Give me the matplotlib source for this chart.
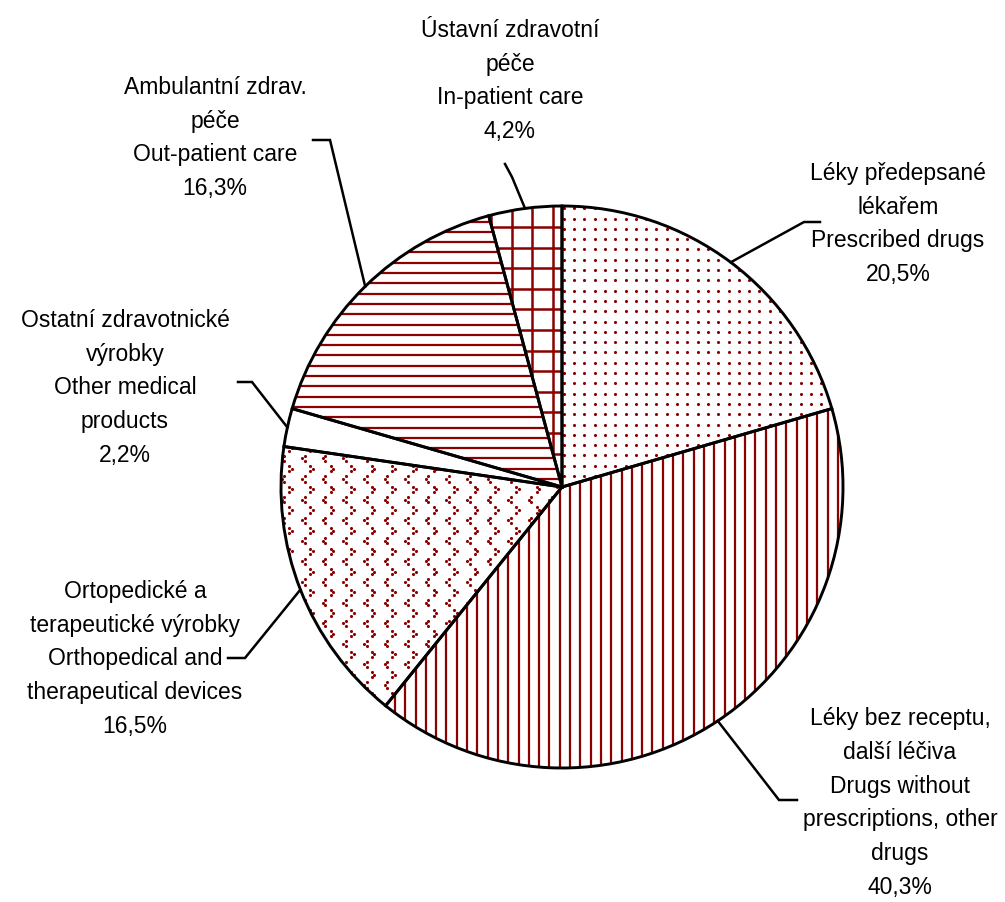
import numpy as np
import matplotlib
matplotlib.use('Agg')
import matplotlib.pyplot as plt

plt.rcParams['font.family'] = ['Liberation Sans Narrow', 'Liberation Sans', 'DejaVu Sans']

labels = ['Léky předepsané\nlékařem\nPrescribed drugs',
          'Léky bez receptu,\ndalší léčiva\nDrugs without\nprescriptions, other\ndrugs',
          'Ortopedické a\nterapeutické výrobky\nOrthopedical and\ntherapeutical devices',
          'Ostatní zdravotnické\nvýrobky\nOther medical\nproducts',
          'Ambulantní zdrav.\npéče\nOut-patient care',
          'Ústavní zdravotní\npéče\nIn-patient care']
shares = [20.5, 40.3, 16.5, 2.2, 16.3, 4.2]
patterns = ['dots', 'vlines', 'chevrons', 'none', 'hlines', 'grid']

W, H = 1005, 903
cx, cy, r = 562, H - 488, 281
red = '#8b0000'

fig = plt.figure(figsize=(W / 100, H / 100), dpi=100)
ax = fig.add_axes([0, 0, 1, 1])

wedges, _ = ax.pie(shares, startangle=90, counterclock=False, center=(cx, cy), radius=r,
                   wedgeprops=dict(facecolor='white', edgecolor='none', zorder=1))

# pattern fills, clipped to each wedge
step = 10.3
xs = np.arange(cx - r - 20, cx + r + 20, step)
ys = np.arange(cy - r - 20, cy + r + 20, step)
for w, p in zip(wedges, patterns):
    arts = []
    if p == 'vlines':
        for x in xs:
            arts += ax.plot([x, x], [cy - r, cy + r], color=red, lw=1.6, zorder=2)
    elif p == 'hlines':
        for y in ys:
            arts += ax.plot([cx - r, cx + r], [y, y], color=red, lw=1.6, zorder=2)
    elif p == 'grid':
        for x in np.arange(cx - 9, cx - r, -20.6):
            arts += ax.plot([x, x], [cy - r, cy + r], color=red, lw=1.8, zorder=2)
        for y in np.arange(cy + r - 21, cy - r, -20.6):
            arts += ax.plot([cx - r, cx + r], [y, y], color=red, lw=1.8, zorder=2)
    elif p == 'dots':
        gx, gy = np.meshgrid(xs + 4, ys + 3)
        arts.append(ax.scatter(gx.ravel(), gy.ravel(), s=5, color=red, lw=0, zorder=2))
    elif p == 'chevrons':
        pts = []
        for j, y in enumerate(ys):
            off = 0 if j % 2 == 0 else 10.3
            sgn = 1 if j % 2 == 0 else -1
            for x in np.arange(cx - r - 20 + off, cx + r + 20, 20.6):
                pts += [(x, y), (x + 2.6 * sgn, y + 2.6), (x + 2.6 * sgn, y - 2.6)]
        pts = np.array(pts)
        arts.append(ax.scatter(pts[:, 0], pts[:, 1], s=5, color=red, lw=0, zorder=2))
    for a in arts:
        a.set_clip_path(w)

# outlines on top
ax.pie(shares, startangle=90, counterclock=False, center=(cx, cy), radius=r,
       wedgeprops=dict(facecolor='none', edgecolor='black', linewidth=2.1, zorder=3))

# label layout: text centre (x, y from top), leader elbow points (from top)
text_pos = [(898, 224), (900, 803), (135, 659), (125, 388), (215, 138), (510, 81)]
leaders = [[(804, 223), (820, 223)],
           [(779, 801), (797, 801)],
           [(245, 659), (228, 659)],
           [(252, 383), (238, 383)],
           [(330, 141), (313, 141)],
           [(512, 178), (505, 165)]]

for w, lab, v, (tx, ty), pts in zip(wedges, labels, shares, text_pos, leaders):
    mid = np.deg2rad((w.theta1 + w.theta2) / 2)
    sx, sy = cx + r * np.cos(mid), cy + r * np.sin(mid)
    lx = [sx] + [p[0] for p in pts]
    ly = [sy] + [H - p[1] for p in pts]
    ax.plot(lx, ly, color='black', lw=1.8, zorder=4, solid_joinstyle='miter')
    txt = lab + '\n' + ('%.1f' % v).replace('.', ',') + '%'
    ax.text(tx, H - ty, txt, ha='center', va='center', fontsize=16.5, linespacing=1.6, zorder=5)

ax.set_xlim(0, W)
ax.set_ylim(0, H)
ax.set_aspect('auto')
ax.axis('off')
fig.savefig('out.png', dpi=100)
